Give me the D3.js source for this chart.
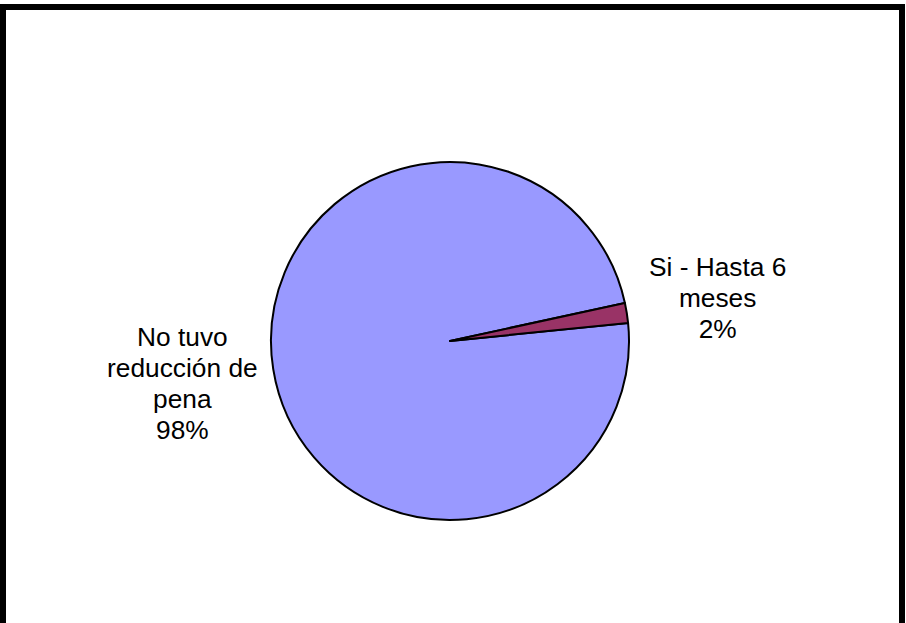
<!DOCTYPE html>
<html>
<head>
<meta charset="utf-8">
<script src="https://cdn.jsdelivr.net/npm/d3@7"></script>
<style>
  html, body { margin: 0; padding: 0; background: #fff; }
  svg { display: block; }
</style>
</head>
<body>
<div id="chart"></div>
<script>
// data
const categories = ["No tuvo\nreducción de\npena", "Si - Hasta 6\nmeses"];
const values = [98.2, 1.8];
const labels = ["98%", "2%"];
const colors = ["#9999FF", "#993366"];

var width = 906,
  height = 623;
var cx = 450, cy = 341, radius = 179;
var startDeg = 84.2; // first slice begins a bit above 3 o'clock

const svg = d3.select("#chart")
  .append("svg")
  .attr("width", width)
  .attr("height", height)
  .style("font", "26.3px 'Liberation Sans', Arial, sans-serif");

// chart frame
svg.append("rect")
  .attr("x", 3)
  .attr("y", 7)
  .attr("width", 899)
  .attr("height", 700)
  .attr("fill", "none")
  .attr("stroke", "#000")
  .attr("stroke-width", 6);

const pie = d3.pie()
  .sort(null)
  .value(d => d.value)
  .startAngle(startDeg * Math.PI / 180)
  .endAngle(startDeg * Math.PI / 180 + 2 * Math.PI);

const data = categories.map((c, i) => ({name: c, value: values[i], pct: labels[i], color: colors[i]}));
const arcs = pie(data);

const arc = d3.arc().innerRadius(0).outerRadius(radius);
const labelArc = d3.arc().innerRadius(271).outerRadius(271);

const g = svg.append("g").attr("transform", `translate(${cx},${cy})`);

g.selectAll("path")
  .data(arcs)
  .enter()
  .append("path")
  .attr("d", arc)
  .attr("fill", d => d.data.color)
  .attr("stroke", "#000")
  .attr("stroke-width", 2)
  .attr("stroke-linejoin", "round");

var lineH = 31;
g.selectAll("text")
  .data(arcs)
  .enter()
  .append("text")
  .attr("text-anchor", "middle")
  .attr("fill", "#000")
  .each(function(d) {
    var p = labelArc.centroid(d);
    var lines = d.data.name.split("\n").concat([d.data.pct]);
    var y0 = p[1] - (lines.length - 1) * lineH / 2 + 8.5;
    var t = d3.select(this);
    lines.forEach((l, i) => {
      t.append("tspan")
        .attr("x", p[0])
        .attr("y", y0 + i * lineH)
        .text(l);
    });
  });
</script>
</body>
</html>
